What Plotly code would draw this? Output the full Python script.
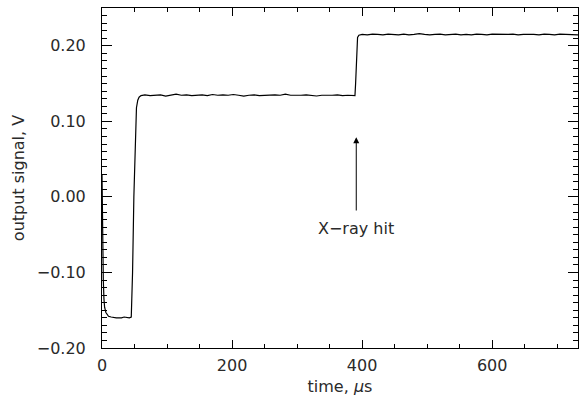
import plotly.graph_objects as go

# time (microseconds) and output signal (V)
t_start = [0, 1, 2, 3, 4, 6, 8, 10, 14, 18, 22, 26, 30, 34, 38, 42, 45]
v_start = [0.03, -0.06, -0.11, -0.135, -0.146, -0.153, -0.156, -0.158, -0.159, -0.160, -0.160, -0.160, -0.160, -0.159, -0.160, -0.160, -0.159]

t_rise1 = [47, 49, 51, 53, 55, 57, 60]
v_rise1 = [-0.10, 0.00, 0.08, 0.118, 0.128, 0.132, 0.134]

t_plat1 = [66, 74, 82, 90, 98, 106, 114, 122, 130, 138, 146, 154, 162, 170, 178, 186, 194, 202, 210,
           218, 226, 234, 242, 250, 258, 266, 274, 282, 290, 298, 306, 314, 322, 330, 338, 346, 354,
           362, 370, 378, 386, 389]
v_plat1 = [0.135, 0.134, 0.1345, 0.135, 0.1335, 0.1345, 0.136, 0.1345, 0.135, 0.134, 0.1345, 0.135,
           0.134, 0.1355, 0.1345, 0.135, 0.1345, 0.1355, 0.1345, 0.1335, 0.1345, 0.135, 0.134, 0.1345,
           0.1355, 0.135, 0.1345, 0.136, 0.1345, 0.134, 0.1345, 0.135, 0.1345, 0.1335, 0.1345, 0.134,
           0.1345, 0.135, 0.134, 0.1345, 0.1335, 0.134]

t_rise2 = [390, 391, 392, 393, 395]
v_rise2 = [0.15, 0.18, 0.20, 0.211, 0.214]

t_plat2 = [400, 408, 416, 424, 432, 440, 448, 456, 464, 472, 480, 488, 496, 504, 512, 520, 528, 536,
           544, 552, 560, 568, 576, 584, 592, 600, 608, 616, 624, 632, 640, 648, 656, 664, 672, 680,
           688, 696, 704, 712, 720, 728, 732]
v_plat2 = [0.215, 0.2145, 0.2155, 0.215, 0.2145, 0.2155, 0.215, 0.2145, 0.2155, 0.2145, 0.215, 0.216,
           0.215, 0.2145, 0.215, 0.2155, 0.2145, 0.215, 0.2155, 0.2145, 0.215, 0.2145, 0.2155, 0.215,
           0.2145, 0.2155, 0.215, 0.2145, 0.215, 0.2155, 0.2145, 0.215, 0.2155, 0.215, 0.2145, 0.2155,
           0.215, 0.2145, 0.2155, 0.215, 0.2145, 0.215, 0.2145]

t_all = t_start + t_rise1 + t_plat1 + t_rise2 + t_plat2
v_all = v_start + v_rise1 + v_plat1 + v_rise2 + v_plat2

arrow_t = 391
arrow_tip = 0.079
arrow_tail = -0.02
label_y = -0.042
label_text = "X\u2212ray hit"

FONT = "DejaVu Sans"
TXT = "#2a2a2a"

fig = go.Figure()
fig.add_trace(go.Scatter(x=t_all, y=v_all, mode="lines",
                         line=dict(color="black", width=1.2), showlegend=False, hoverinfo="skip"))

fig.add_annotation(x=arrow_t, y=arrow_tip, ax=arrow_t, ay=arrow_tail, xref="x", yref="y",
                   axref="x", ayref="y", text="", showarrow=True, arrowhead=2, arrowsize=1.2,
                   arrowwidth=1, arrowcolor="black", standoff=0, startstandoff=0)
fig.add_annotation(x=arrow_t, y=label_y, xref="x", yref="y", text=label_text, showarrow=False,
                   font=dict(family=FONT, size=16, color=TXT))

axis_common = dict(showline=True, linecolor="black", linewidth=1, mirror="allticks",
                   ticks="inside", tickcolor="black", showgrid=False, zeroline=False,
                   tickfont=dict(family=FONT, size=16, color=TXT))

fig.update_xaxes(range=[0, 732], dtick=200, tick0=0, ticklen=8, tickwidth=1,
                 minor=dict(dtick=50, ticklen=4, ticks="inside", tickcolor="black", showgrid=False),
                 ticklabelstandoff=3,
                 title=dict(text="time, <i>\u03bc</i>s", font=dict(family=FONT, size=16, color=TXT),
                            standoff=6),
                 **axis_common)
fig.update_yaxes(range=[-0.2, 0.25], dtick=0.1, tick0=0, tickformat=".2f", ticklen=10, tickwidth=1,
                 minor=dict(dtick=0.01, ticklen=5, ticks="inside", tickcolor="black", showgrid=False),
                 ticklabelstandoff=12,
                 title=dict(text="output signal, V", font=dict(family=FONT, size=16, color=TXT),
                            standoff=8),
                 **axis_common)

fig.update_layout(width=580, height=404, margin=dict(l=102, r=2, t=8, b=56, autoexpand=False),
                  plot_bgcolor="white", paper_bgcolor="white", hovermode=False)

fig.write_html("out.html", config={"displayModeBar": False, "staticPlot": True},
               post_script="document.body.style.margin='0';document.body.style.overflow='hidden';")
